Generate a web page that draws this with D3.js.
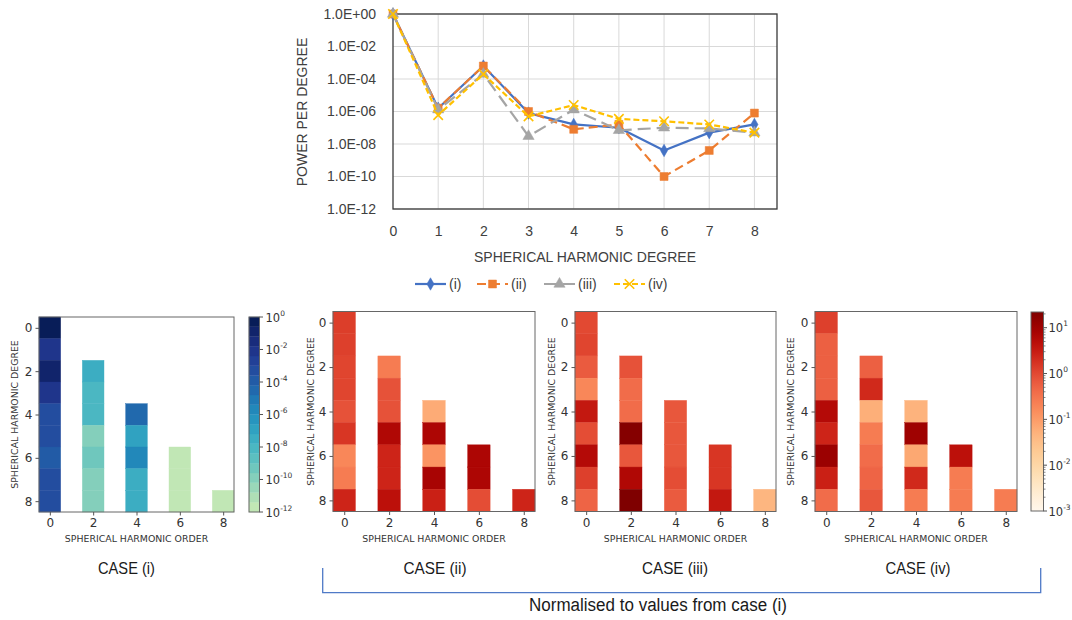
<!DOCTYPE html>
<html>
<head>
<meta charset="utf-8">
<script src="https://cdn.jsdelivr.net/npm/d3@7"></script>
<style>
  body { margin: 0; background: #fff; }
  svg { display: block; }
</style>
</head>
<body>
<div id="chart"></div>
<script>
// ---- line chart data (power per degree) ----
const degrees = [0, 1, 2, 3, 4, 5, 6, 7, 8];
const powerI   = [1, 1.6e-6, 6.3e-4, 8e-7, 1.6e-7, 1e-7, 4e-9, 5e-8, 1.6e-7];
const powerII  = [1, 1.6e-6, 6.3e-4, 1e-6, 8e-8, 1.6e-7, 1e-10, 4e-9, 8e-7];
const powerIII = [1, 1.3e-6, 2e-4, 3e-8, 1.3e-6, 7e-8, 1e-7, 9e-8, 5e-8];
const powerIV  = [1, 6e-7, 2e-4, 5e-7, 2.5e-6, 3.5e-7, 2.5e-7, 1.6e-7, 5e-8];
const seriesNames = ["(i)", "(ii)", "(iii)", "(iv)"];
const powerTicks = [1, 1e-2, 1e-4, 1e-6, 1e-8, 1e-10, 1e-12];
const powerTickLabels = ["1.0E+00", "1.0E-02", "1.0E-04", "1.0E-06", "1.0E-08", "1.0E-10", "1.0E-12"];

// ---- heatmap data: one array per order, degrees running from the order up to 8 ----
const orders = [0, 2, 4, 6, 8];
const caseI = [
  [0.5, 1e-2, 0.25, 8e-3, 6e-4, 6e-4, 1e-4, 5e-4, 5e-4],
  [2e-8, 1e-8, 1e-8, 1e-10, 8e-10, 1e-10, 1e-10],
  [6e-5, 2e-7, 1e-6, 2e-8, 2e-8],
  [2.5e-12, 2.5e-12, 2.5e-12],
  [2.5e-12]
];
const caseII = [
  [1.3, 1.25, 1.1, 1.1, 0.8, 1.6, 0.18, 0.25, 2.5],
  [0.25, 0.8, 0.8, 6.3, 2.5, 2.5, 4.5],
  [0.063, 7, 0.125, 8, 2.8],
  [7, 7, 0.9],
  [2.5]
];
const caseIII = [
  [1, 1.1, 0.63, 0.18, 3.5, 0.9, 5.6, 1.25, 0.5],
  [0.8, 0.4, 0.4, 19, 0.7, 6.3, 22],
  [0.7, 0.7, 0.7, 0.9, 0.63],
  [1.6, 1.6, 3.5],
  [0.045]
];
const caseIV = [
  [1.25, 0.56, 0.56, 0.56, 5.6, 2.5, 11, 2.8, 0.4],
  [0.56, 2.2, 0.056, 0.25, 0.4, 0.5, 0.7],
  [0.05, 10, 0.07, 2.2, 0.25],
  [4.5, 0.25, 0.25],
  [0.25]
];
const caseLabels = ["CASE (i)", "CASE (ii)", "CASE (iii)", "CASE (iv)"];
const cbarIExps = [0, -2, -4, -6, -8, -10, -12];
const cbarRatioExps = [1, 0, -1, -2, -3];

const svg = d3.select("#chart").append("svg")
  .attr("width", 1072)
  .attr("height", 620);

// ================= top line chart =================
const lineFont = "'Liberation Sans', Arial, sans-serif";
const textCol = "#404040";
const lx = d3.scaleLinear().domain([0, 8.5]).range([393, 777]);
const ly = d3.scaleLog().domain([1e-12, 1]).range([209, 14]);

const lineG = svg.append("g");

// gridlines
lineG.append("g").selectAll("line")
  .data(powerTicks)
  .join("line")
  .attr("x1", lx(0)).attr("x2", lx(8.5))
  .attr("y1", d => ly(d)).attr("y2", d => ly(d))
  .attr("stroke", "#d9d9d9").attr("stroke-width", 1);
lineG.append("g").selectAll("line")
  .data(degrees.slice(1))
  .join("line")
  .attr("x1", d => lx(d)).attr("x2", d => lx(d))
  .attr("y1", ly(1)).attr("y2", ly(1e-12))
  .attr("stroke", "#d9d9d9").attr("stroke-width", 1);

lineG.append("rect")
  .attr("x", lx(0)).attr("y", ly(1))
  .attr("width", lx(8.5) - lx(0)).attr("height", ly(1e-12) - ly(1))
  .attr("fill", "none").attr("stroke", "#3a3a3a").attr("stroke-width", 1.3);

const yAx = lineG.append("g")
  .attr("transform", `translate(${lx(0)},0)`)
  .call(d3.axisLeft(ly).tickValues(powerTicks).tickFormat((d, i) => powerTickLabels[i]).tickSize(0).tickPadding(17));
const xAx = lineG.append("g")
  .attr("transform", `translate(0,${ly(1e-12)})`)
  .call(d3.axisBottom(lx).tickValues(degrees).tickSize(0).tickPadding(17));
[yAx, xAx].forEach(a => {
  a.select(".domain").remove();
  a.selectAll("text").attr("font-family", lineFont).attr("font-size", 14).attr("fill", textCol);
});

lineG.append("text")
  .attr("x", 585).attr("y", 262)
  .attr("text-anchor", "middle")
  .attr("font-family", lineFont).attr("font-size", 14).attr("fill", textCol)
  .text("SPHERICAL HARMONIC DEGREE");
lineG.append("text")
  .attr("transform", "translate(307,112) rotate(-90)")
  .attr("text-anchor", "middle")
  .attr("font-family", lineFont).attr("font-size", 14).attr("fill", textCol)
  .text("POWER PER DEGREE");

const seriesStyle = [
  { color: "#4472c4", dash: null, symbol: d3.symbolDiamond, size: 45, stroke: false },
  { color: "#ed7d31", dash: "9,5", symbol: d3.symbolSquare, size: 64, stroke: false },
  { color: "#a5a5a5", dash: "13,6", symbol: d3.symbolTriangle, size: 55, stroke: false },
  { color: "#ffc000", dash: "6,3", symbol: d3.symbolX, size: 60, stroke: true }
];
const allSeries = [powerI, powerII, powerIII, powerIV];

const line = d3.line()
  .x((d, i) => lx(degrees[i]))
  .y(d => ly(d));

allSeries.forEach((vals, si) => {
  const st = seriesStyle[si];
  lineG.append("path")
    .datum(vals)
    .attr("d", line)
    .attr("fill", "none")
    .attr("stroke", st.color)
    .attr("stroke-width", 2.2)
    .attr("stroke-dasharray", st.dash)
    .attr("stroke-linejoin", "round");
  lineG.append("g").selectAll("path")
    .data(vals)
    .join("path")
    .attr("transform", (d, i) => `translate(${lx(degrees[i])},${ly(d)})`)
    .attr("d", d3.symbol(st.symbol, st.size))
    .attr("fill", st.stroke ? "none" : st.color)
    .attr("stroke", st.color)
    .attr("stroke-width", st.stroke ? 1.6 : 0.5);
});

// legend
const legendX = [415, 477, 544, 614];
const legY = 284;
seriesNames.forEach((name, si) => {
  const st = seriesStyle[si];
  const g = lineG.append("g").attr("transform", `translate(${legendX[si]},${legY})`);
  g.append("line")
    .attr("x1", 0).attr("x2", 31).attr("y1", 0).attr("y2", 0)
    .attr("stroke", st.color).attr("stroke-width", 2.2)
    .attr("stroke-dasharray", st.dash);
  g.append("path")
    .attr("transform", "translate(15.5,0)")
    .attr("d", d3.symbol(st.symbol, st.size))
    .attr("fill", st.stroke ? "none" : st.color)
    .attr("stroke", st.color)
    .attr("stroke-width", st.stroke ? 1.6 : 0.5);
  g.append("text")
    .attr("x", 34).attr("y", 5)
    .attr("font-family", lineFont).attr("font-size", 14).attr("fill", textCol)
    .text(name);
});

// ================= heatmaps =================
const mplFont = "'DejaVu Sans', sans-serif";
const inkCol = "#333";

function colorI(v) {
  const frac = (Math.log10(v) + 12) / 12;
  const band = Math.max(0, Math.min(19, Math.floor(frac * 20)));
  return d3.interpolateYlGnBu(0.25 + 0.75 * band / 19);
}
const ratioLog = d3.scaleLog().domain([1e-3, 22]).range([0, 1]).clamp(true);
function colorRatio(v) {
  return d3.interpolateOrRd(ratioLog(v));
}

function heatmap(x0, y0, w, h, cols, colorFn, labelX) {
  const g = svg.append("g");
  const xs = d3.scaleLinear().domain([-0.5, 8.5]).range([x0, x0 + w]);
  const ys = d3.scaleLinear().domain([-0.5, 8.5]).range([y0, y0 + h]);
  const cells = [];
  cols.forEach((col, j) => {
    col.forEach((v, k) => cells.push({ m: orders[j], l: orders[j] + k, v }));
  });
  g.selectAll("rect.cell")
    .data(cells)
    .join("rect")
    .attr("class", "cell")
    .attr("x", d => xs(d.m - 0.5))
    .attr("y", d => ys(d.l - 0.5))
    .attr("width", xs(1) - xs(0))
    .attr("height", ys(1) - ys(0))
    .attr("fill", d => colorFn(d.v))
    .attr("stroke", d => colorFn(d.v))
    .attr("stroke-width", 0.4);
  g.append("rect")
    .attr("x", x0).attr("y", y0).attr("width", w).attr("height", h)
    .attr("fill", "none").attr("stroke", "#666").attr("stroke-width", 1);

  const ax = g.append("g")
    .attr("transform", `translate(${x0},0)`)
    .call(d3.axisLeft(ys).tickValues(orders).tickSize(3.5).tickPadding(3));
  const bx = g.append("g")
    .attr("transform", `translate(0,${y0 + h})`)
    .call(d3.axisBottom(xs).tickValues(orders).tickSize(3.5).tickPadding(3));
  [ax, bx].forEach(a => {
    a.select(".domain").remove();
    a.selectAll("line").attr("stroke", "#555");
    a.selectAll("text").attr("font-family", mplFont).attr("font-size", 12).attr("fill", inkCol);
  });
  g.append("text")
    .attr("x", x0 + w / 2).attr("y", y0 + h + 30)
    .attr("text-anchor", "middle")
    .attr("font-family", mplFont).attr("font-size", 9.4).attr("fill", inkCol)
    .text("SPHERICAL HARMONIC ORDER");
  g.append("text")
    .attr("transform", `translate(${labelX},${y0 + h / 2}) rotate(-90)`)
    .attr("text-anchor", "middle")
    .attr("font-family", mplFont).attr("font-size", 9.4).attr("fill", inkCol)
    .text("SPHERICAL HARMONIC DEGREE");
}

function cbarLabel(g, x, y, exp) {
  const t = g.append("text")
    .attr("x", x).attr("y", y + 4.5)
    .attr("font-family", mplFont).attr("font-size", 11.5).attr("fill", inkCol);
  t.append("tspan").text("10");
  t.append("tspan").attr("dy", -6).attr("font-size", 7.5)
    .text(exp < 0 ? "-" + Math.abs(exp) : String(exp));
}

heatmap(39, 317, 195, 195, caseI, colorI, 18);
heatmap(333, 311.5, 202, 200, caseII, colorRatio, 314);
heatmap(575, 311.5, 201, 200, caseIII, colorRatio, 555);
heatmap(815, 311.5, 202, 200, caseIV, colorRatio, 794);

// colorbar for case (i): discrete bands
{
  const g = svg.append("g");
  const cy = d3.scaleLog().domain([1e-12, 1]).range([512, 317]);
  const bands = d3.range(20);
  g.selectAll("rect")
    .data(bands)
    .join("rect")
    .attr("x", 249).attr("width", 10.5)
    .attr("y", b => cy(Math.pow(10, -12 + (b + 1) * 0.6)))
    .attr("height", b => cy(Math.pow(10, -12 + b * 0.6)) - cy(Math.pow(10, -12 + (b + 1) * 0.6)))
    .attr("fill", b => d3.interpolateYlGnBu(0.25 + 0.75 * b / 19))
    .attr("stroke", b => d3.interpolateYlGnBu(0.25 + 0.75 * b / 19))
    .attr("stroke-width", 0.3);
  g.append("rect").attr("x", 249).attr("y", 317).attr("width", 10.5).attr("height", 195)
    .attr("fill", "none").attr("stroke", "#666").attr("stroke-width", 1);
  cbarIExps.forEach(e => {
    const y = cy(Math.pow(10, e));
    g.append("line").attr("x1", 259.5).attr("x2", 263).attr("y1", y).attr("y2", y).attr("stroke", "#555");
    cbarLabel(g, 265.5, y, e);
  });
}

// colorbar for normalised cases: continuous OrRd
{
  const g = svg.append("g");
  const cy = d3.scaleLog().domain([1e-3, 22]).range([511, 312]);
  const grad = svg.append("defs").append("linearGradient")
    .attr("id", "orrd").attr("x1", 0).attr("x2", 0).attr("y1", 1).attr("y2", 0);
  d3.range(0, 1.0001, 0.05).forEach(t => {
    grad.append("stop").attr("offset", t).attr("stop-color", d3.interpolateOrRd(t));
  });
  g.append("rect").attr("x", 1031).attr("y", 312).attr("width", 12.5).attr("height", 199)
    .attr("fill", "url(#orrd)").attr("stroke", "#666").attr("stroke-width", 1);
  const minor = [];
  for (let e = -3; e <= 1; e++) {
    for (let k = 2; k <= 9; k++) {
      const v = k * Math.pow(10, e);
      if (v <= 22) minor.push(v);
    }
  }
  g.selectAll("line.minor")
    .data(minor)
    .join("line")
    .attr("class", "minor")
    .attr("x1", 1043.5).attr("x2", 1045.5)
    .attr("y1", d => cy(d)).attr("y2", d => cy(d))
    .attr("stroke", "#555").attr("stroke-width", 0.7);
  cbarRatioExps.forEach(e => {
    const y = cy(Math.pow(10, e));
    g.append("line").attr("x1", 1043.5).attr("x2", 1047).attr("y1", y).attr("y2", y).attr("stroke", "#555");
    cbarLabel(g, 1048.5, y, e);
  });
}

// ================= captions =================
const capFont = "'Liberation Sans', Arial, sans-serif";
const capX = [126.5, 435, 675, 918];
const capLen = [57, 63, 66, 65];
caseLabels.forEach((c, i) => {
  svg.append("text")
    .attr("x", capX[i]).attr("y", 574)
    .attr("text-anchor", "middle")
    .attr("font-family", capFont).attr("font-size", 17).attr("fill", "#1a1a1a")
    .attr("textLength", capLen[i]).attr("lengthAdjust", "spacingAndGlyphs")
    .text(c);
});

svg.append("path")
  .attr("d", "M322.7,568V592.7H1040.7V568")
  .attr("fill", "none").attr("stroke", "#4f7ac7").attr("stroke-width", 1.3);

svg.append("text")
  .attr("x", 658).attr("y", 611)
  .attr("text-anchor", "middle")
  .attr("font-family", capFont).attr("font-size", 18).attr("fill", "#1a1a1a")
  .attr("textLength", 258).attr("lengthAdjust", "spacingAndGlyphs")
  .text("Normalised to values from case (i)");
</script>
</body>
</html>
